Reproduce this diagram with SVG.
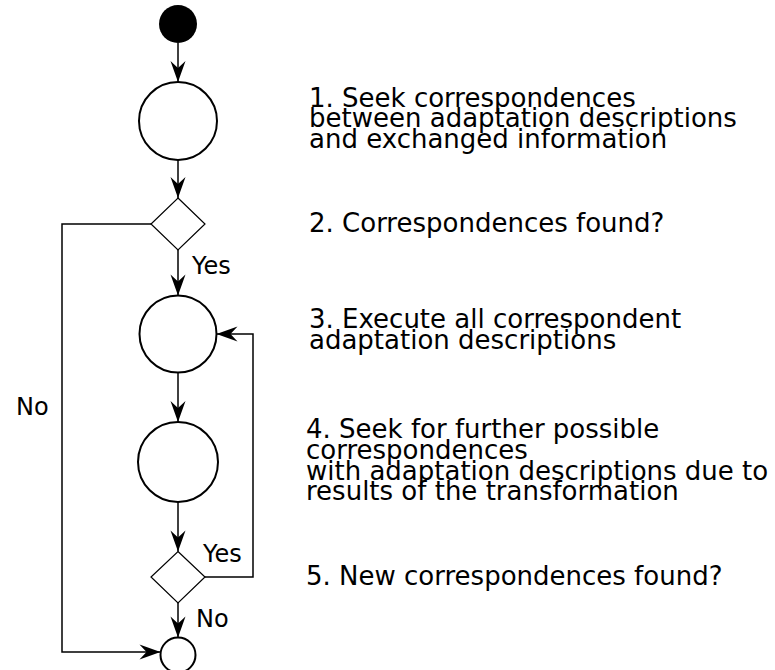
<svg xmlns="http://www.w3.org/2000/svg" width="775" height="670" viewBox="0 0 775 670">
  <style>
    .act { fill: #ffffff; stroke: #000000; stroke-width: 2; }
    .dec { fill: #ffffff; stroke: #000000; stroke-width: 1.2; }
    .edge { fill: none; stroke: #000000; stroke-width: 1.5; marker-end: url(#arrow); }
    .lbl { font-family: "DejaVu Sans", Verdana, sans-serif; font-size: 24px; fill: #000000; }
    .note { font-family: "DejaVu Sans", Verdana, sans-serif; font-size: 26px; fill: #000000; }
  </style>
  <defs>
    <marker id="arrow" viewBox="-22 -9 23 18" refX="0" refY="0" markerWidth="23" markerHeight="18" markerUnits="userSpaceOnUse" orient="auto">
      <path d="M0,0 L-21,-7.5 L-14,0 L-21,7.5 Z" fill="#000000"/>
    </marker>
  </defs>

  <!-- nodes -->
  <g id="start"><circle cx="178" cy="24" r="19" fill="#000000"/></g>
  <g id="seek"><circle class="act" cx="178" cy="121" r="39"/></g>
  <g id="found"><polygon class="dec" points="178,198 205,224 178,250 151,224"/></g>
  <g id="execute"><circle class="act" cx="178" cy="334" r="38.5"/></g>
  <g id="seekFurther"><circle class="act" cx="178" cy="462" r="40"/></g>
  <g id="newFound"><polygon class="dec" points="178,551.5 205,577 178,603 151,577"/></g>
  <g id="end"><circle class="act" cx="178" cy="655" r="17.5"/></g>

  <!-- connectors -->
  <g id="connectors">
    <path class="edge" d="M178,43 L178,82"/>
    <path class="edge" d="M178,160 L178,198"/>
    <path class="edge" d="M178,250 L178,295.5"/>
    <path class="edge" d="M178,372.5 L178,422"/>
    <path class="edge" d="M178,502 L178,551.5"/>
    <path class="edge" d="M178,603 L178,637.5"/>
    <path class="edge" d="M205,577 L253,577 L253,334 L216.5,334"/>
    <path class="edge" d="M151,224 L62,224 L62,652 L160.5,652"/>
  </g>

  <!-- guard labels -->
  <text class="lbl" x="192" y="274">Yes</text>
  <text class="lbl" x="16" y="415">No</text>
  <text class="lbl" x="203" y="562">Yes</text>
  <text class="lbl" x="196" y="627">No</text>

  <!-- step descriptions -->
  <text class="note" x="309" y="106.5">1. Seek correspondences</text>
  <text class="note" x="309" y="127">between adaptation descriptions</text>
  <text class="note" x="309" y="148">and exchanged information</text>
  <text class="note" x="309" y="232">2. Correspondences found?</text>
  <text class="note" x="309" y="328">3. Execute all correspondent</text>
  <text class="note" x="309" y="349">adaptation descriptions</text>
  <text class="note" x="306" y="438">4. Seek for further possible</text>
  <text class="note" x="306" y="459">correspondences</text>
  <text class="note" x="306" y="480">with adaptation descriptions due to</text>
  <text class="note" x="306" y="500">results of the transformation</text>
  <text class="note" x="306" y="585">5. New correspondences found?</text>
</svg>
